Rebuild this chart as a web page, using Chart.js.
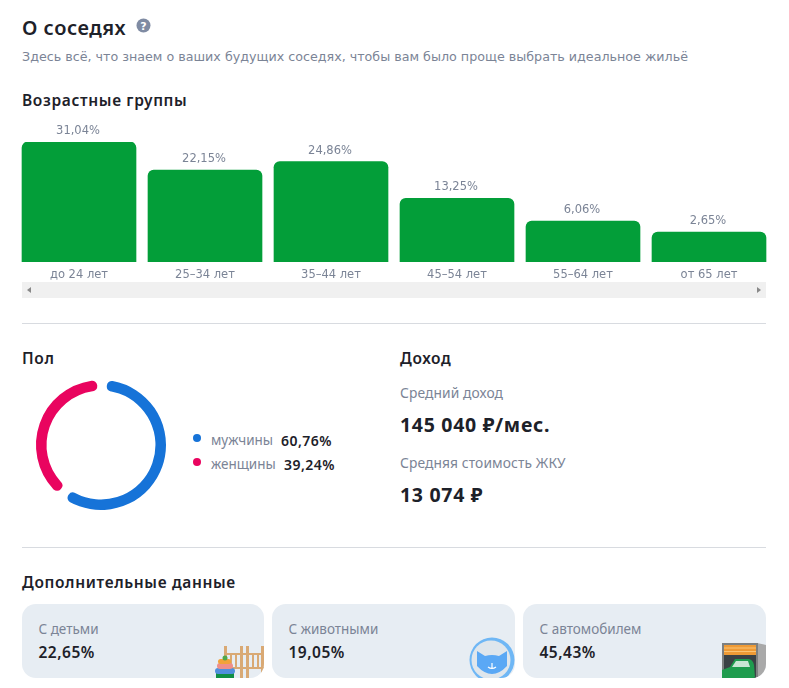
<!DOCTYPE html>
<html lang="ru">
<head>
<meta charset="utf-8">
<title>О соседях</title>
<script src="https://cdn.jsdelivr.net/npm/chart.js@4/dist/chart.umd.min.js"></script>
<style>
  html, body { margin: 0; padding: 0; background: #fff; }
  body { position: relative; width: 789px; height: 688px; overflow: hidden; font-family: "DejaVu Sans", sans-serif; color: #1d2129; }
  .abs { position: absolute; white-space: nowrap; line-height: 1; }
  .head { font-family: "Noto Sans", sans-serif; font-weight: 600; font-size: 15.5px; letter-spacing: .65px; }
  .grey { color: #7b8496; }
  .divider { position: absolute; left: 22px; width: 744px; height: 1px; background: #d8dbe0; }
  .scroll { position: absolute; left: 22px; top: 282px; width: 744px; height: 16px; background: #f0f0f0; }
  .card { position: absolute; top: 604px; height: 74px; background: #e7edf3; border-radius: 14px; overflow: hidden; }
  .card .name { position: absolute; left: 16.5px; top: 15.5px; font-size: 13.5px; color: #7b8496; font-family: "Noto Sans", sans-serif; white-space: nowrap; }
  .card .val { position: absolute; left: 16.5px; top: 37px; font-size: 15.5px; letter-spacing: .5px; font-weight: 600; font-family: "Noto Sans", sans-serif; white-space: nowrap; }
  .card svg { position: absolute; right: 0; bottom: 0; }
  .dot { position: absolute; width: 8px; height: 8px; border-radius: 50%; }
  canvas { position: absolute; }
</style>
</head>
<body>
<div class="abs" style="left:22px;top:14px;font:600 20px 'Noto Sans',sans-serif;letter-spacing:.5px">О соседях</div>
<svg class="abs" style="left:136px;top:18px" width="15" height="15"><circle cx="7.5" cy="7.5" r="7" fill="#7f8ba3"/><text x="7.5" y="11.5" text-anchor="middle" font-size="11" font-weight="700" font-family="DejaVu Sans" fill="#fff">?</text></svg>
<div class="abs grey" style="left:22px;top:51px;font-size:12.7px">Здесь всё, что знаем о ваших будущих соседях, чтобы вам было проще выбрать идеальное жильё</div>

<div class="abs head" style="left:22px;top:93px">Возрастные группы</div>
<canvas id="ages" style="left:16px;top:120px"></canvas>
<div class="scroll">
  <svg width="744" height="16"><path d="M9 5v6l-4-3z" fill="#888"/><path d="M735 5v6l4-3z" fill="#888"/></svg>
</div>
<div class="divider" style="top:323px"></div>

<div class="abs head" style="left:22px;top:351px">Пол</div>
<canvas id="gender" style="left:21px;top:365px"></canvas>
<div id="genderLegend"></div>

<div class="abs head" style="left:400px;top:351px">Доход</div>
<div class="abs grey" style="left:400px;top:385.5px;font-size:13.8px;font-family:'Noto Sans',sans-serif;letter-spacing:.1px">Средний доход</div>
<div class="abs" style="left:400px;top:411px;font:700 19.5px 'Noto Sans',sans-serif;letter-spacing:.7px">145 040 ₽/мес.</div>
<div class="abs grey" style="left:400px;top:455.5px;font-size:13.8px;font-family:'Noto Sans',sans-serif;letter-spacing:.1px">Средняя стоимость ЖКУ</div>
<div class="abs" style="left:400px;top:481px;font:700 19.5px 'Noto Sans',sans-serif;letter-spacing:.7px">13 074 ₽</div>
<div class="divider" style="top:547px"></div>

<div class="abs head" style="left:22px;top:575px">Дополнительные данные</div>
<div id="cards"></div>

<script>
// возрастные группы
const ageLabels = ['до 24 лет', '25–34 лет', '35–44 лет', '45–54 лет', '55–64 лет', 'от 65 лет']
const ageValues = [31.04, 22.15, 24.86, 13.25, 6.06, 2.65]

// пол
const genderLabels = ['мужчины', 'женщины']
const genderValues = [60.76, 39.24]
const genderColors = ['#1673d8', '#e9045f']

// дополнительные данные
const extraLabels = ['С детьми', 'С животными', 'С автомобилем']
const extraValues = [22.65, 19.05, 45.43]

const fmt = v => v.toFixed(2).replace('.', ',') + '%'

// подписи над столбцами
const barValues = {
  id: 'barValues',
  afterDatasetsDraw(chart) {
    const { ctx } = chart
    ctx.save()
    ctx.font = '11.5px "DejaVu Sans"'
    ctx.fillStyle = '#7b8496'
    ctx.textAlign = 'center'
    chart.getDatasetMeta(0).data.forEach((bar, i) => {
      ctx.fillText(fmt(ageValues[i]), bar.x - 1, bar.y - 8)
    })
    ctx.restore()
  }
}

const agesEl = document.getElementById('ages')
agesEl.width = 756
agesEl.height = 162

new Chart(agesEl, {
  type: 'bar',
  data: {
    labels: ageLabels,
    datasets: [{
      data: ageValues,
      base: -6.82,
      backgroundColor: '#039e39',
      barThickness: 114,
      borderRadius: { topLeft: 6, topRight: 6 },
      borderSkipped: 'bottom'
    }]
  },
  options: {
    responsive: false,
    animation: false,
    layout: { padding: { top: 22, left: 0, right: 0, bottom: 0 } },
    plugins: { legend: { display: false }, tooltip: { enabled: false } },
    scales: {
      x: {
        grid: { display: false, drawTicks: false },
        border: { display: false },
        afterFit: axis => { axis.height = 20 },
        ticks: { color: '#7b8496', font: { family: 'DejaVu Sans', size: 11.5 }, padding: 6, maxRotation: 0 }
      },
      y: {
        display: false,
        min: -6.82,
        max: 31.04
      }
    }
  },
  plugins: [barValues]
})

const genderEl = document.getElementById('gender')
genderEl.width = 160
genderEl.height = 160

new Chart(genderEl, {
  type: 'doughnut',
  data: {
    labels: genderLabels,
    datasets: [{
      data: genderValues,
      backgroundColor: genderColors,
      borderWidth: 0,
      borderRadius: 5,
      spacing: 6
    }]
  },
  options: {
    responsive: false,
    animation: false,
    radius: 62,
    cutout: '83%',
    rotation: 0,
    plugins: { legend: { display: false }, tooltip: { enabled: false } }
  }
})

// легенда
const legendEl = document.getElementById('genderLegend')
const legendRows = [[193, 211, 281, 433], [193, 211, 284, 457]]
genderLabels.forEach((name, i) => {
  const [dx, nx, vx, top] = legendRows[i]
  legendEl.insertAdjacentHTML('beforeend',
    `<span class="dot" style="left:${dx}px;top:${top + 1}px;background:${genderColors[i]}"></span>` +
    `<div class="abs grey" style="left:${nx}px;top:${top - 2}px;font:13.5px 'Noto Sans',sans-serif">${name}</div>` +
    `<div class="abs" style="left:${vx}px;top:${top - 2}px;font:600 14px 'Noto Sans',sans-serif;letter-spacing:.45px">${fmt(genderValues[i])}</div>`)
})

// карточки с картинками
const icons = [
  `<svg width="50" height="36" viewBox="0 0 50 36"><g fill="#d9a974"><rect x="10" y="4" width="3" height="32"/><rect x="26" y="4" width="3" height="32"/><rect x="32" y="4" width="3" height="32"/><rect x="47" y="4" width="3" height="32"/><rect x="10" y="11" width="40" height="2"/><rect x="10" y="25" width="40" height="2"/><rect x="16" y="12" width="2" height="14"/><rect x="21" y="12" width="2" height="14"/><rect x="38" y="12" width="2" height="14"/><rect x="43" y="12" width="2" height="14"/></g><rect x="2" y="31" width="18" height="5" fill="#0f8f45"/><rect x="1" y="26" width="20" height="6" rx="3" fill="#4f8fdc"/><rect x="3" y="21" width="16" height="6" rx="3" fill="#ef8f8a"/><rect x="4" y="17" width="13" height="5" rx="2.5" fill="#f2a23a"/><circle cx="11" cy="16" r="2.5" fill="#4fa84a"/></svg>`,
  `<svg width="50" height="44" viewBox="0 0 50 44"><circle cx="27" cy="26" r="22.5" fill="#6fb7f5"/><circle cx="26" cy="26" r="19.5" fill="#dfe6ec"/><path d="M12 17l8 5q7-2 14 0l8-5v15q-15 16-30 0z" fill="#5aa8f5"/><path d="M27 29v5m-4-1q4 3 8 0" stroke="#fff" stroke-width="1.2" fill="none"/></svg>`,
  `<svg width="50" height="44" viewBox="0 0 50 44"><path d="M41 9l9 2v33h-9z" fill="#a9a9a9"/><rect x="6" y="9" width="36" height="35" fill="#7d8080"/><rect x="8" y="11" width="32" height="10" fill="#ee9a35"/><path d="M8 14h32M8 17.5h32" stroke="#fbc474" stroke-width="1"/><rect x="8" y="21" width="32" height="23" fill="#3b4245"/><path d="M6 36l8-3 5-8h14q4 1 5 6l1 13H6z" fill="#1f9c4e"/><path d="M16 33l4-6h12l2 6z" fill="#c9e6d4"/></svg>`
]
const cardLeft = [22, 272, 523]
const cardWidth = [242, 243, 243]
const cardsEl = document.getElementById('cards')
extraLabels.forEach((name, i) => {
  cardsEl.insertAdjacentHTML('beforeend',
    `<div class="card" style="left:${cardLeft[i]}px;width:${cardWidth[i]}px">` +
    `<div class="name">${name}</div><div class="val">${fmt(extraValues[i])}</div>${icons[i]}</div>`)
})
</script>
</body>
</html>
